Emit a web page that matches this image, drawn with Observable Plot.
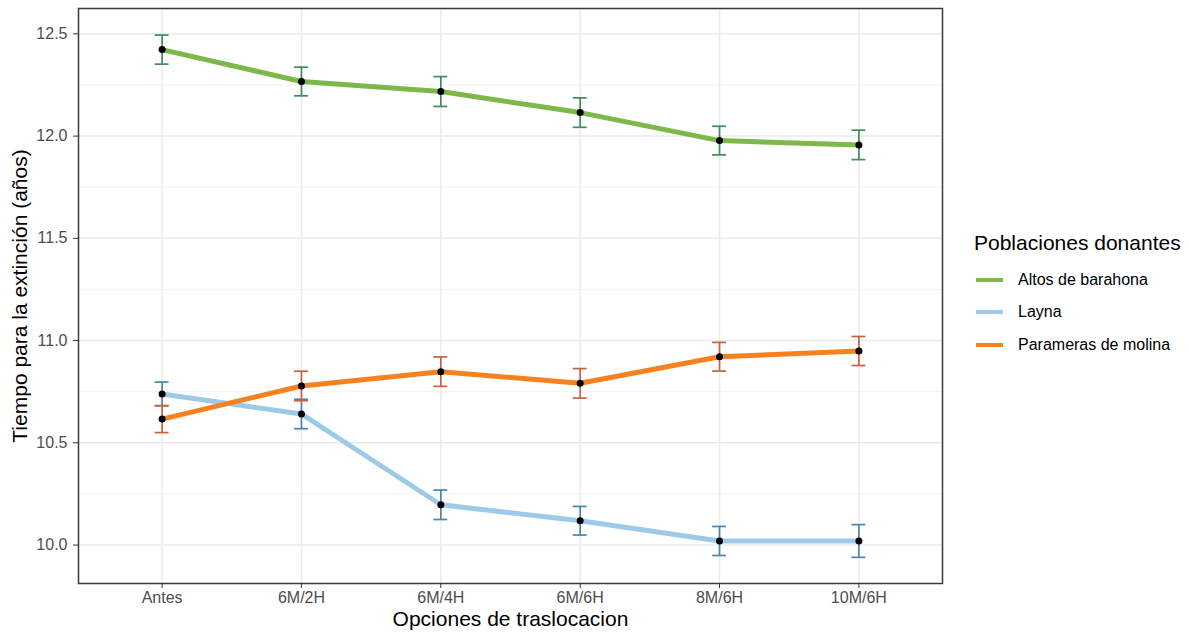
<!DOCTYPE html>
<html><head><meta charset="utf-8">
<script src="https://cdn.jsdelivr.net/npm/d3@7"></script>
<script src="https://cdn.jsdelivr.net/npm/@observablehq/plot@0.6"></script>
<style>
body{margin:0;background:#fff;font-family:"Liberation Sans",Arial,sans-serif;}
#wrap{position:relative;width:1189px;height:639px;overflow:hidden;background:#fff}
#chart{position:absolute;left:0;top:0}
#legend{position:absolute;left:974px;top:231.5px;color:#000}
#legend .title{font-size:21px;line-height:21px;white-space:nowrap}
#legend .rows{margin-top:11.2px}
#legend .row{height:32.4px;display:flex;align-items:center}
#legend .key{width:27px;height:4px;margin-left:2px;margin-right:15px}
#legend .lab{font-size:16px;line-height:16px;white-space:nowrap}
</style></head><body>
<div id="wrap"><div id="chart"></div><div id="legend"></div></div>
<script>
const categories = ["Antes","6M/2H","6M/4H","6M/6H","8M/6H","10M/6H"];
const series = ["Altos de barahona","Layna","Parameras de molina"];
const altosMean = [12.423, 12.267, 12.218, 12.115, 11.978, 11.957];
const altosErr  = [0.071, 0.070, 0.073, 0.072, 0.070, 0.072];
const laynaMean = [10.739, 10.641, 10.197, 10.119, 10.020, 10.020];
const laynaErr  = [0.058, 0.072, 0.072, 0.070, 0.071, 0.080];
const paramMean = [10.616, 10.778, 10.848, 10.791, 10.921, 10.949];
const paramErr  = [0.066, 0.072, 0.072, 0.072, 0.070, 0.071];
const lineColors = ["#7db84a","#9dcae8","#f5821f"];
const barColors  = ["#3f8c5e","#4a86ac","#c9613f"];
const yTicks = [10.0, 10.5, 11.0, 11.5, 12.0, 12.5];
const yMinorTicks = [10.25, 10.75, 11.25, 11.75, 12.25];
const yTitle = "Tiempo para la extinción (años)";
const xTitle = "Opciones de traslocacion";
const legendTitle = "Poblaciones donantes";

const means = [altosMean, laynaMean, paramMean];
const errs = [altosErr, laynaErr, paramErr];
const rows = [];
series.forEach((s, k) => categories.forEach((c, i) => rows.push({x: i, cat: c, series: s, k, mean: means[k][i], err: errs[k][i]})));
const idx = d3.range(categories.length);
const capHalf = 0.05;

const errMarks = series.flatMap((s, k) => {
  const d = rows.filter(r => r.k === k);
  const st = {stroke: barColors[k], strokeWidth: 1.7};
  return [
    Plot.ruleX(d, {x: "x", y1: r => r.mean - r.err, y2: r => r.mean + r.err, ...st}),
    Plot.ruleY(d, {y: r => r.mean + r.err, x1: r => r.x - capHalf, x2: r => r.x + capHalf, ...st}),
    Plot.ruleY(d, {y: r => r.mean - r.err, x1: r => r.x - capHalf, x2: r => r.x + capHalf, ...st})
  ];
});

const plot = Plot.plot({
  width: 952, height: 639,
  marginLeft: 78, marginRight: 10, marginTop: 8, marginBottom: 56,
  style: {fontFamily: "'Liberation Sans', Arial, sans-serif", fontSize: "16px", color: "#4d4d4d", background: "#fff"},
  x: {domain: [-0.6, categories.length - 1 + 0.6]},
  y: {domain: [9.812, 12.624]},
  color: {domain: series, range: lineColors},
  marks: [
    Plot.gridY(yMinorTicks, {stroke: "#f3f3f3", strokeOpacity: 1, strokeWidth: 0.9}),
    Plot.gridY(yTicks, {stroke: "#ebebeb", strokeOpacity: 1, strokeWidth: 1.5}),
    Plot.gridX(idx, {stroke: "#ebebeb", strokeOpacity: 1, strokeWidth: 1.5}),
    Plot.line(rows, {x: "x", y: "mean", z: "series", stroke: "series", strokeWidth: 5, strokeLinejoin: "round"}),
    ...errMarks,
    Plot.dot(rows, {x: "x", y: "mean", r: 3.5, fill: "#000", stroke: null}),
    Plot.frame({stroke: "#3a3a3a", strokeWidth: 1.5}),
    Plot.axisY(yTicks, {tickSize: 5, tickPadding: 6, tickFormat: d => d.toFixed(1), label: null, stroke: "#333", fill: "#4d4d4d", fontSize: 16}),
    Plot.axisX(idx, {tickSize: 5, tickPadding: 3, tickFormat: i => categories[i], label: null, stroke: "#333", fill: "#4d4d4d", fontSize: 16}),
    Plot.text([xTitle], {frameAnchor: "bottom", dy: 36, textAnchor: "middle", lineAnchor: "middle", fontSize: 21, fill: "#000", text: d => d}),
    Plot.text([yTitle], {frameAnchor: "left", dx: -58, rotate: -90, textAnchor: "middle", lineAnchor: "middle", fontSize: 21, fill: "#000", text: d => d})
  ]
});
document.getElementById("chart").appendChild(plot);

const leg = document.getElementById("legend");
const t = document.createElement("div"); t.className = "title"; t.textContent = legendTitle; leg.appendChild(t);
const rw = document.createElement("div"); rw.className = "rows"; leg.appendChild(rw);
series.forEach((s, k) => {
  const r = document.createElement("div"); r.className = "row";
  const key = document.createElement("div"); key.className = "key"; key.style.background = lineColors[k];
  const lab = document.createElement("div"); lab.className = "lab"; lab.textContent = s;
  r.appendChild(key); r.appendChild(lab); rw.appendChild(r);
});
</script>
</body></html>
